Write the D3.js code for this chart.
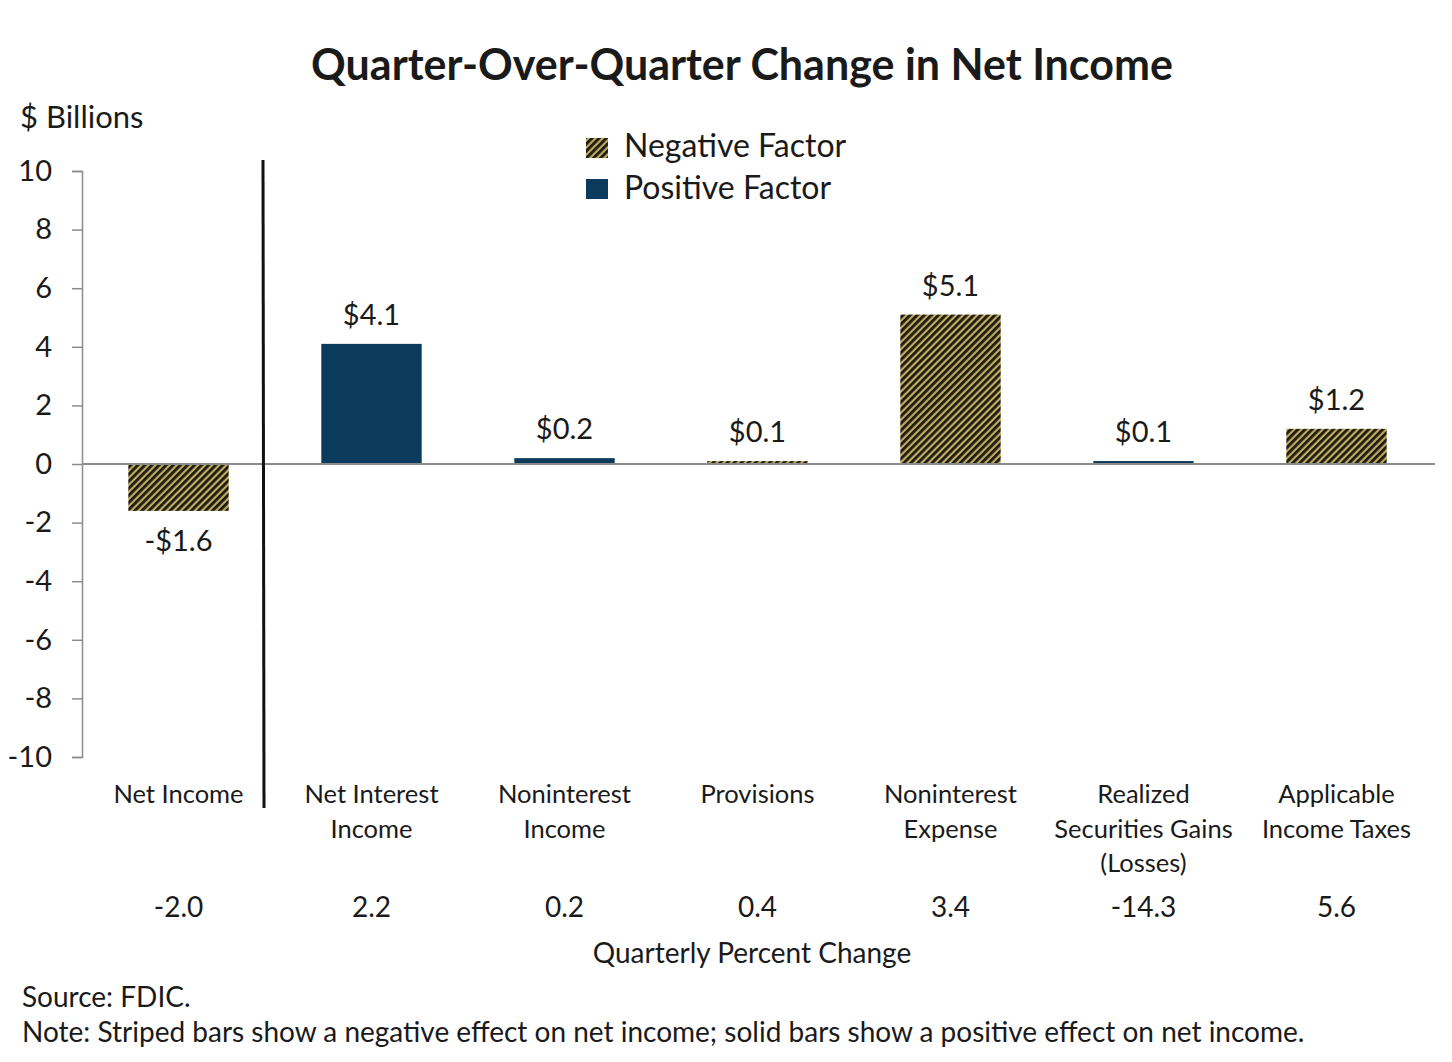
<!DOCTYPE html>
<html>
<head>
<meta charset="utf-8">
<script src="https://cdn.jsdelivr.net/npm/d3@7"></script>
<style>
  body { margin: 0; background: #fff; }
  svg text { font-family: "Lato", "Open Sans", sans-serif; fill: #1a1a1a; }
</style>
</head>
<body>
<svg id="chart" width="1452" height="1062"></svg>
<script>
// chart data
const categories = [
  ["Net Income"],
  ["Net Interest", "Income"],
  ["Noninterest", "Income"],
  ["Provisions"],
  ["Noninterest", "Expense"],
  ["Realized", "Securities Gains", "(Losses)"],
  ["Applicable", "Income Taxes"]
];
const values = [-1.6, 4.1, 0.2, 0.1, 5.1, 0.1, 1.2];
const factor = ["neg", "pos", "pos", "neg", "neg", "pos", "neg"];
const pctChange = ["-2.0", "2.2", "0.2", "0.4", "3.4", "-14.3", "5.6"];
const yTicks = [10, 8, 6, 4, 2, 0, -2, -4, -6, -8, -10];

const navy = "#0b3a5c";

let svg = d3.select("#chart");

// stripe pattern for negative factors
let defs = svg.append("defs");
let pat = defs.append("pattern")
    .attr("id", "stripes")
    .attr("patternUnits", "userSpaceOnUse")
    .attr("width", 5)
    .attr("height", 5)
    .attr("patternTransform", "rotate(45)");
pat.append("rect")
    .attr("width", 5).attr("height", 5)
    .attr("fill", "#bfac5c");
pat.append("rect")
    .attr("width", 2.8).attr("height", 5)
    .attr("fill", "#1c1a10");

let fillFor = function (f) { return f === "neg" ? "url(#stripes)" : navy; };

// scales
const x = d3.scaleBand()
    .domain(d3.range(categories.length))
    .range([82, 1433])
    .paddingInner(0.48)
    .paddingOuter(0.24);

const y = d3.scaleLinear()
    .domain([-10, 10])
    .range([757, 171]);

// title
svg.append("text")
    .attr("x", 742)
    .attr("y", 80)
    .attr("text-anchor", "middle")
    .style("font-size", "43px")
    .style("font-weight", "bold")
    .text("Quarter-Over-Quarter Change in Net Income");

svg.append("text")
    .attr("x", 20)
    .attr("y", 128)
    .style("font-size", "31px")
    .text("$ Billions");

// y axis
let yAxis = svg.append("g")
    .attr("transform", "translate(82,0)")
    .call(d3.axisLeft(y)
        .tickValues(yTicks)
        .tickFormat(function (d) { return String(d); })
        .tickSize(10)
        .tickPadding(20));
yAxis.select(".domain").attr("stroke", "#8c8c8c").attr("stroke-width", 1.5);
yAxis.selectAll(".tick line").attr("stroke", "#8c8c8c").attr("stroke-width", 1.5);
yAxis.selectAll(".tick text")
    .style("font-size", "29px")
    .style("font-family", "Lato, sans-serif")
    .attr("fill", "#1a1a1a");

// bars
svg.selectAll(".bar")
    .data(values)
    .enter()
    .append("rect")
    .attr("class", "bar")
    .attr("x", function (d, i) { return x(i); })
    .attr("width", x.bandwidth())
    .attr("y", function (d) { return y(Math.max(0, d)); })
    .attr("height", function (d) { return Math.abs(y(d) - y(0)); })
    .attr("fill", function (d, i) { return fillFor(factor[i]); });

// zero line
svg.append("line")
    .attr("x1", 82).attr("x2", 1435)
    .attr("y1", y(0)).attr("y2", y(0))
    .attr("stroke", "#8c8c8c")
    .attr("stroke-width", 2);

// divider after net income
svg.append("line")
    .attr("x1", 263).attr("x2", 264)
    .attr("y1", 160).attr("y2", 808)
    .attr("stroke", "#111")
    .attr("stroke-width", 3);

// value labels
svg.selectAll(".val")
    .data(values)
    .enter()
    .append("text")
    .attr("class", "val")
    .attr("x", function (d, i) { return x(i) + x.bandwidth() / 2; })
    .attr("y", function (d) { return d < 0 ? y(d) + 40 : y(d) - 19; })
    .attr("text-anchor", "middle")
    .style("font-size", "29px")
    .text(function (d) { return (d < 0 ? "-$" : "$") + Math.abs(d).toFixed(1); });

// category labels
let cat = svg.selectAll(".cat")
    .data(categories)
    .enter()
    .append("text")
    .attr("class", "cat")
    .attr("text-anchor", "middle")
    .style("font-size", "25.5px")
    .attr("fill", "#262626");
cat.each(function (lines, i) {
    let t = d3.select(this);
    lines.forEach(function (ln, k) {
        t.append("tspan")
            .attr("x", x(i) + x.bandwidth() / 2)
            .attr("y", 803 + k * 34.5)
            .text(ln);
    });
});

// quarterly percent change row
svg.selectAll(".pct")
    .data(pctChange)
    .enter()
    .append("text")
    .attr("class", "pct")
    .attr("x", function (d, i) { return x(i) + x.bandwidth() / 2; })
    .attr("y", 917)
    .attr("text-anchor", "middle")
    .style("font-size", "28px")
    .text(function (d) { return d; });

svg.append("text")
    .attr("x", 752)
    .attr("y", 963)
    .attr("text-anchor", "middle")
    .style("font-size", "28px")
    .attr("fill", "#262626")
    .text("Quarterly Percent Change");

// legend
let legend = [["Negative Factor", "neg"], ["Positive Factor", "pos"]];
legend.forEach(function (l, i) {
    svg.append("rect")
        .attr("x", 586)
        .attr("y", 138 + i * 41)
        .attr("width", 22)
        .attr("height", 20)
        .attr("fill", fillFor(l[1]));
    svg.append("text")
        .attr("x", 624)
        .attr("y", 157 + i * 42)
        .style("font-size", "32px")
        .text(l[0]);
});

// notes
svg.append("text")
    .attr("x", 22)
    .attr("y", 1007)
    .style("font-size", "28px")
    .attr("fill", "#262626")
    .text("Source: FDIC.");
svg.append("text")
    .attr("x", 22)
    .attr("y", 1042)
    .style("font-size", "28px")
    .attr("fill", "#262626")
    .text("Note: Striped bars show a negative effect on net income; solid bars show a positive effect on net income.");
</script>
</body>
</html>
